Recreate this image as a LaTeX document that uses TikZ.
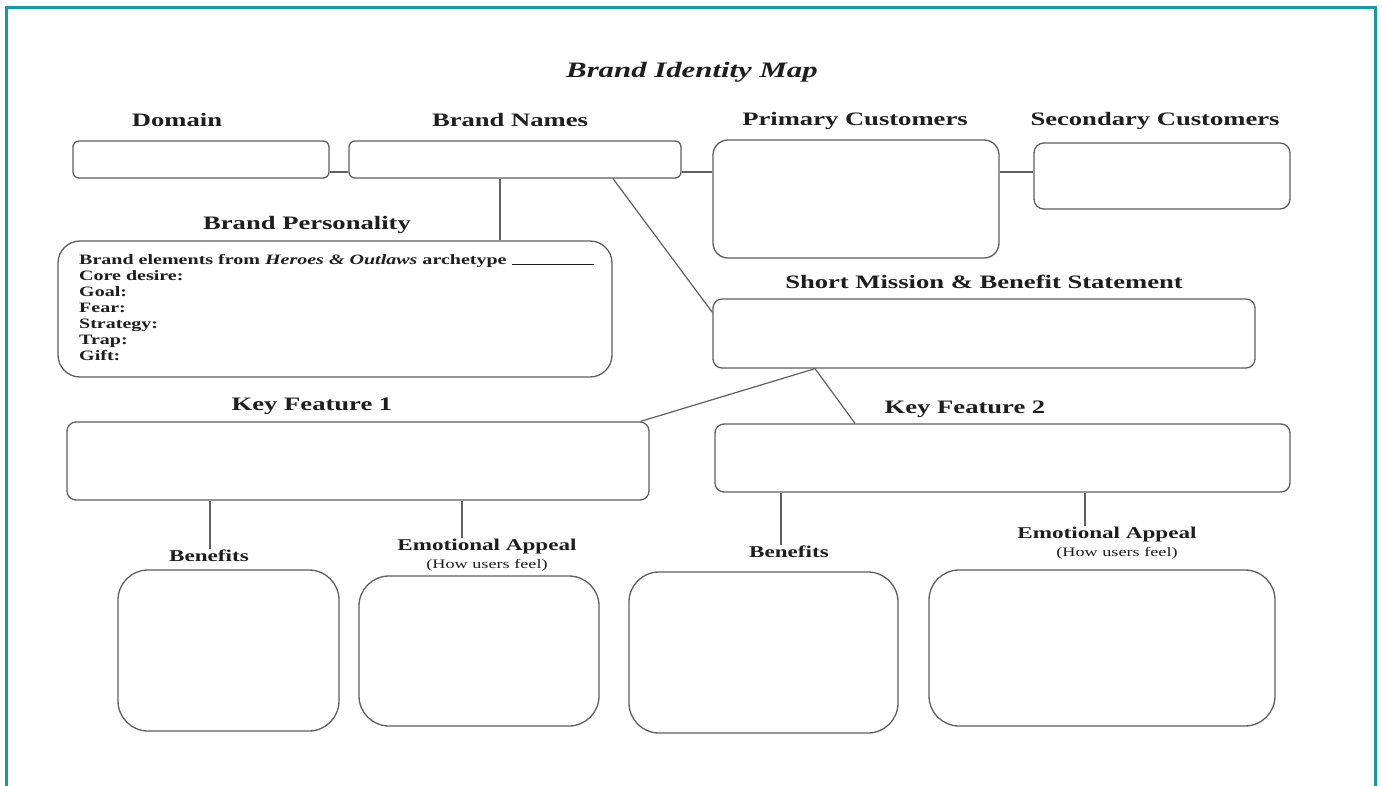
\documentclass[tikz,border=0pt]{standalone}
\usepackage{fontspec}
\setmainfont{Liberation Serif}[FakeStretch=1.4]
\definecolor{boxgray}{RGB}{95,95,95}
\definecolor{ink}{RGB}{30,30,30}
\definecolor{frameteal}{RGB}{24,152,160}
\tikzset{
  bx/.style={draw=boxgray, line width=1.3pt, rounded corners=#1, inner sep=0pt},
  bx/.default=6pt,
  lbl/.style={font=\fontsize{19}{22}\selectfont\bfseries, text=ink, inner sep=1pt},
  slbl/.style={font=\fontsize{16.5}{19}\selectfont\bfseries, text=ink, inner sep=1pt},
  nt/.style={font=\fontsize{13}{15}\selectfont, text=ink, inner sep=1pt},
  cn/.style={draw=boxgray, line width=1.2pt},
}
\begin{document}
\begin{tikzpicture}[x=1pt,y=-1pt]
\useasboundingbox (0,0) rectangle (1382,786);
\fill[white] (0,0) rectangle (1382,786);
% frame
\draw[frameteal, line width=3pt] (6,800) -- (6,8) -- (1375,8) -- (1375,800);

% title
\node[font=\fontsize{22}{26}\selectfont\bfseries\itshape, text=ink] (title) at (692,72) {Brand Identity Map};

% top row
\node[bx=6pt, minimum width=256pt, minimum height=37pt] (domain) at (201,159.5) {};
\node[bx=6pt, minimum width=332pt, minimum height=37pt] (names) at (515,159.5) {};
\node[bx=15pt, minimum width=286pt, minimum height=118pt] (prim) at (856,199) {};
\node[bx=10pt, minimum width=256pt, minimum height=66pt] (sec) at (1162,176) {};
\node[lbl] (domainlab) at (177,120) {Domain};
\node[lbl] (nameslab) at (510,120) {Brand Names};
\node[lbl] (primlab) at (855,121) {Primary Customers};
\node[lbl] (seclab) at (1155,121) {Secondary Customers};

% personality
\node[lbl] (perslab) at (307,225) {Brand Personality};
\node[bx=22pt, minimum width=554pt, minimum height=136pt] (pers) at (335,309) {};
\node[anchor=north west, inner sep=0pt, align=left, text=ink,
      font=\fontsize{14.3}{16}\selectfont\bfseries] (perstext) at (79,254)
  {Brand elements from \textit{Heroes \& Outlaws} archetype \rule[-1pt]{82pt}{0.8pt}\\
   Core desire:\\ Goal:\\ Fear:\\ Strategy:\\ Trap:\\ Gift:};

% mission
\node[lbl] (mislab) at (984,282) {Short Mission \& Benefit Statement};
\node[bx=9pt, minimum width=542pt, minimum height=69pt] (mission) at (984,333.5) {};

% key features
\node[lbl] (kf1lab) at (312,406) {Key Feature 1};
\node[bx=9pt, minimum width=582pt, minimum height=78pt] (kf1) at (358,461) {};
\node[lbl] (kf2lab) at (965,409) {Key Feature 2};
\node[bx=9pt, minimum width=575pt, minimum height=68pt] (kf2) at (1002.5,458) {};

% bottom labels
\node[slbl] (ben1lab) at (209,556) {Benefits};
\node[slbl] (emo1lab) at (487,547) {Emotional Appeal};
\node[nt] (emo1sub) at (487,565) {(How users feel)};
\node[slbl] (ben2lab) at (789,552) {Benefits};
\node[slbl] (emo2lab) at (1107,535) {Emotional Appeal};
\node[nt] (emo2sub) at (1117,553) {(How users feel)};

% bottom boxes
\node[bx=30pt, minimum width=221pt, minimum height=161pt] (ben1) at (228.5,650.5) {};
\node[bx=30pt, minimum width=240pt, minimum height=150pt] (emo1) at (479,651) {};
\node[bx=30pt, minimum width=269pt, minimum height=161pt] (ben2) at (763.5,652.5) {};
\node[bx=30pt, minimum width=346pt, minimum height=156pt] (emo2) at (1102,648) {};

% connectors
\coordinate (ylink) at (0,172);
\draw[cn] (domain.east |- ylink) -- (names.west |- ylink);
\draw[cn] (names.east |- ylink) -- (prim.west |- ylink);
\draw[cn] (prim.east |- ylink) -- (sec.west |- ylink);
\draw[cn] ([xshift=-15pt]names.south) -- ([xshift=-15pt]names.south |- pers.north);
\draw[cn] ([xshift=98pt]names.south) -- ([yshift=-14pt]mission.north west);
\draw[cn] ([xshift=-169pt]mission.south) -- ([xshift=-9pt]kf1.north east);
\draw[cn] ([xshift=-169pt]mission.south) -- ([xshift=-147.5pt]kf2.north);
\draw[cn] ([xshift=-148pt]kf1.south) -- ([xshift=-148pt]kf1.south |- ben1lab.north);
\draw[cn] ([xshift=104pt]kf1.south) -- ([xshift=104pt]kf1.south |- emo1lab.north);
\draw[cn] ([xshift=-221.5pt]kf2.south) -- ([xshift=-221.5pt]kf2.south |- ben2lab.north);
\draw[cn] ([xshift=82.5pt]kf2.south) -- ([xshift=82.5pt]kf2.south |- emo2lab.north);
\end{tikzpicture}
\end{document}
